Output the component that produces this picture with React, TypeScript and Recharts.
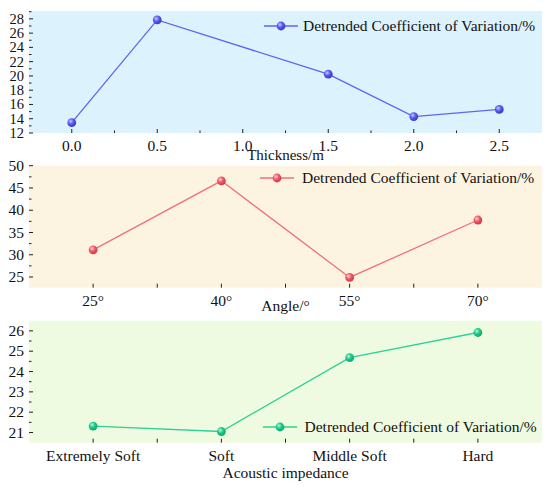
import React from 'react';
import { LineChart, Line, XAxis, YAxis, CartesianGrid, ReferenceArea, Legend } from 'recharts';

const FONT = '"Liberation Serif", "Times New Roman", serif';

// ---- data ----
const thickness = [0, 0.5, 1.5, 2.0, 2.5];
const thicknessCv = [13.45, 27.85, 20.25, 14.3, 15.3];
const thicknessTicks = [0, 0.25, 0.5, 0.75, 1.0, 1.25, 1.5, 1.75, 2.0, 2.25, 2.5];
const thicknessYTicks = [12, 13, 14, 15, 16, 17, 18, 19, 20, 21, 22, 23, 24, 25, 26, 27, 28, 29];

const angles = ['25°', '40°', '55°', '70°'];
const angleCv = [31.1, 46.6, 24.9, 37.8];
const angleYTicks = [25, 27.5, 30, 32.5, 35, 37.5, 40, 42.5, 45, 47.5, 50];

const impedance = ['Extremely Soft', 'Soft', 'Middle Soft', 'Hard'];
const impedanceCv = [21.32, 21.05, 24.68, 25.92];
const impedanceYTicks = [21, 21.5, 22, 22.5, 23, 23.5, 24, 24.5, 25, 25.5, 26];

const LEGEND_TEXT = 'Detrended Coefficient of Variation/%';

const data1 = thickness.map((x, i) => ({ x, v: thicknessCv[i] }));
const data2 = angles.map((c, i) => ({ c, v: angleCv[i] }));
const data3 = impedance.map((c, i) => ({ c, v: impedanceCv[i] }));

const PLOT_W = 513;
const HALF_BAND = PLOT_W / 4 / 2;

// ---- ticks ----
const NumXTick = (props: any) => {
  const { x, y, payload } = props;
  const v = payload.value;
  const major = Math.abs(v * 2 - Math.round(v * 2)) < 1e-6;
  return (
    <g>
      <line x1={x} x2={x} y1={y} y2={y - (major ? 4 : 2.5)} stroke="#222" strokeWidth={1} />
      {major && (
        <text x={x} y={y + 18.2} textAnchor="middle" fontFamily={FONT} fontSize={15.5} fill="#111">
          {v.toFixed(1)}
        </text>
      )}
    </g>
  );
};

const makeCatXTick = (n: number) => (props: any) => {
  const { x, y, payload, index } = props;
  const off = typeof payload.offset === 'number' && payload.offset > 0 ? payload.offset : HALF_BAND;
  return (
    <g>
      <line x1={x} x2={x} y1={y} y2={y - 4} stroke="#222" strokeWidth={1} />
      {index < n - 1 && <line x1={x + off} x2={x + off} y1={y} y2={y - 4} stroke="#222" strokeWidth={1} />}
      <text x={x} y={y + 18.5} textAnchor="middle" fontFamily={FONT} fontSize={15.5} fill="#111">
        {payload.value}
      </text>
    </g>
  );
};

const makeYTick = (step: number, fs: number) => (props: any) => {
  const { x, y, payload } = props;
  const v = payload.value;
  const major = Math.abs(v / step - Math.round(v / step)) < 1e-6;
  return (
    <g>
      <line x1={x} x2={x + (major ? 4 : 2.5)} y1={y} y2={y} stroke="#222" strokeWidth={1} />
      {major && (
        <text x={x - 5} y={y} dy="0.34em" textAnchor="end" fontFamily={FONT} fontSize={fs} fill="#111">
          {v}
        </text>
      )}
    </g>
  );
};

// ---- dots ----
const makeDot = (grad: string) => (props: any) => {
  const { cx, cy, index } = props;
  if (cx == null || cy == null) return <g key={index} />;
  return <circle key={index} cx={cx} cy={cy} r={4.4} fill={`url(#${grad})`} />;
};

const Grad = ({ id, light, mid, dark }: any) => (
  <defs>
    <radialGradient id={id} cx="38%" cy="35%" r="70%">
      <stop offset="0%" stopColor={light} />
      <stop offset="45%" stopColor={mid} />
      <stop offset="100%" stopColor={dark} />
    </radialGradient>
  </defs>
);

// ---- legend ----
const makeLegend = (color: string, grad: string, lineStart: number, textGap: number) => () => (
  <svg width={300} height={24} style={{ display: 'block', overflow: 'visible' }}>
    <line x1={lineStart} x2={lineStart + 34} y1={11} y2={11} stroke={color} strokeWidth={1.3} />
    <circle cx={lineStart + 17} cy={11} r={4.4} fill={`url(#${grad})`} />
    <text x={lineStart + 34 + textGap} y={16} fontFamily={FONT} fontSize={15.5} fill="#111">
      {LEGEND_TEXT}
    </text>
  </svg>
);

const BLUE = '#6262f2';
const RED = '#f2707a';
const GREEN = '#2fd196';

export default function App() {
  return (
    <div style={{ position: 'absolute', left: 0, top: 0, width: 550, height: 489, background: '#fff' }}>
      {/* Panel 1 */}
      <div style={{ position: 'absolute', left: 0, top: 0 }}>
        <LineChart width={550} height={170} data={data1} margin={{ top: 11, right: 8, left: 0, bottom: 0 }}>
          <Grad id="gBlue" light="#c8c8ff" mid="#5a5af0" dark="#3232c8" />
          <CartesianGrid horizontal={false} vertical={false} fill="#dcf2fd" fillOpacity={1} />
          <XAxis
            dataKey="x"
            type="number"
            domain={[-0.25, 2.75]}
            allowDataOverflow
            ticks={thicknessTicks}
            interval={0}
            axisLine={false}
            tickLine={false}
            tickSize={0}
            tickMargin={0}
            tick={<NumXTick />}
            height={37}
            label={{ value: 'Thickness/m', position: 'insideBottom', offset: 10.5, fontFamily: FONT, fontSize: 15, fill: '#111' }}
          />
          <YAxis
            type="number"
            domain={[12, 29.1]}
            allowDataOverflow
            ticks={thicknessYTicks}
            interval={0}
            axisLine={false}
            tickLine={false}
            tickSize={0}
            tickMargin={0}
            tick={makeYTick(2, 14.5)}
            width={29}
          />
          <Line dataKey="v" stroke={BLUE} strokeWidth={1.3} dot={makeDot('gBlue')} activeDot={false} isAnimationActive={false} />
          <ReferenceArea fill="none" stroke="#2a2a2a" strokeWidth={1.3} ifOverflow="visible" />
          <Legend
            layout="vertical"
            align="center"
            verticalAlign="middle"
            content={makeLegend(BLUE, 'gBlue', 6, 5)}
            wrapperStyle={{ position: 'absolute', left: 258, top: 14.7, width: 300, height: 24 }}
          />
        </LineChart>
      </div>

      {/* Panel 2 */}
      <div style={{ position: 'absolute', left: 0, top: 150 }}>
        <LineChart width={550} height={165} data={data2} margin={{ top: 15.7, right: 8, left: 0, bottom: 0 }}>
          <Grad id="gRed" light="#ffd0d4" mid="#f05a66" dark="#c83440" />
          <CartesianGrid horizontal={false} vertical={false} fill="#fdf3e1" fillOpacity={1} />
          <XAxis
            dataKey="c"
            type="category"
            interval={0}
            padding={{ left: HALF_BAND, right: HALF_BAND }}
            axisLine={false}
            tickLine={false}
            tickSize={0}
            tickMargin={0}
            tick={makeCatXTick(angles.length)}
            height={27.3}
            label={{ value: 'Angle/°', position: 'insideBottom', offset: 4.3, fontFamily: FONT, fontSize: 15.5, fill: '#111' }}
          />
          <YAxis
            type="number"
            domain={[22.6, 50]}
            allowDataOverflow
            ticks={angleYTicks}
            interval={0}
            axisLine={false}
            tickLine={false}
            tickSize={0}
            tickMargin={0}
            tick={makeYTick(5, 15.5)}
            width={29}
          />
          <Line dataKey="v" stroke={RED} strokeWidth={1.3} dot={makeDot('gRed')} activeDot={false} isAnimationActive={false} />
          <ReferenceArea fill="none" stroke="#3a3a3a" strokeWidth={1.3} ifOverflow="visible" />
          <Legend
            layout="vertical"
            align="center"
            verticalAlign="middle"
            content={makeLegend(RED, 'gRed', 6, 8)}
            wrapperStyle={{ position: 'absolute', left: 254, top: 17.3, width: 300, height: 24 }}
          />
        </LineChart>
      </div>

      {/* Panel 3 */}
      <div style={{ position: 'absolute', left: 0, top: 315 }}>
        <LineChart width={550} height={174} data={data3} margin={{ top: 5.7, right: 8, left: 0, bottom: 0 }}>
          <Grad id="gGreen" light="#b8f5dc" mid="#1ecb8a" dark="#10a068" />
          <CartesianGrid horizontal={false} vertical={false} fill="#effbe0" fillOpacity={1} />
          <XAxis
            dataKey="c"
            type="category"
            interval={0}
            padding={{ left: HALF_BAND, right: HALF_BAND }}
            axisLine={false}
            tickLine={false}
            tickSize={0}
            tickMargin={0}
            tick={makeCatXTick(impedance.length)}
            height={46.3}
            label={{ value: 'Acoustic impedance', position: 'insideBottom', offset: 11.3, fontFamily: FONT, fontSize: 15.5, fill: '#111' }}
          />
          <YAxis
            type="number"
            domain={[20.5, 26.5]}
            allowDataOverflow
            ticks={impedanceYTicks}
            interval={0}
            axisLine={false}
            tickLine={false}
            tickSize={0}
            tickMargin={0}
            tick={makeYTick(1, 15.5)}
            width={29}
          />
          <Line dataKey="v" stroke={GREEN} strokeWidth={1.3} dot={makeDot('gGreen')} activeDot={false} isAnimationActive={false} />
          <ReferenceArea fill="none" stroke="#3a3a3a" strokeWidth={1.3} ifOverflow="visible" />
          <Legend
            layout="vertical"
            align="center"
            verticalAlign="middle"
            content={makeLegend(GREEN, 'gGreen', 6, 7.5)}
            wrapperStyle={{ position: 'absolute', left: 257, top: 101.3, width: 300, height: 24 }}
          />
        </LineChart>
      </div>
    </div>
  );
}
